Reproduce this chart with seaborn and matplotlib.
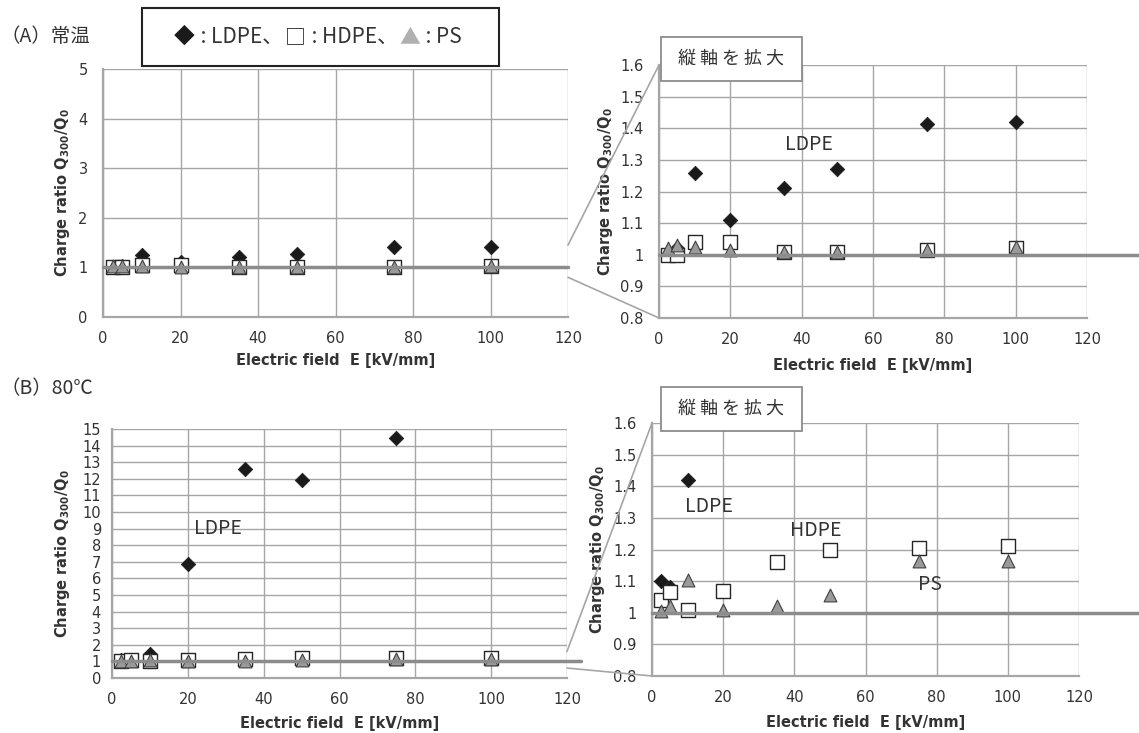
import numpy as np
import pandas as pd
import seaborn as sns
import matplotlib.pyplot as plt
from matplotlib.lines import Line2D
from matplotlib.patches import ConnectionPatch, Rectangle
from matplotlib.offsetbox import TextArea, HPacker, AnnotationBbox

# electric field values [kV/mm]
fields = [2.5, 5, 10, 20, 35, 50, 75, 100]

# (A) room temperature
a_ldpe = [1.0, 1.02, 1.26, 1.11, 1.21, 1.27, 1.415, 1.42]
a_hdpe = [1.0, 1.0, 1.04, 1.04, 1.01, 1.01, 1.015, 1.02]
a_ps = [1.02, 1.03, 1.025, 1.015, 1.01, 1.01, 1.015, 1.025]

# (B) 80 degC, no LDPE point at 100 kV/mm
b_ldpe = [1.10, 1.08, 1.42, 6.85, 12.6, 11.9, 14.45, np.nan]
b_hdpe = [1.04, 1.065, 1.01, 1.07, 1.16, 1.20, 1.205, 1.21]
b_ps = [1.005, 1.02, 1.105, 1.01, 1.02, 1.055, 1.165, 1.165]

x_ticks = [0, 20, 40, 60, 80, 100, 120]
zoom_ticks = [0.8, 0.9, 1.0, 1.1, 1.2, 1.3, 1.4, 1.5, 1.6]
zoom_labels = ['0.8', '0.9', '1', '1.1', '1.2', '1.3', '1.4', '1.5', '1.6']

sns.set_style('white')
plt.rcParams['font.family'] = ['DejaVu Sans', 'Noto Sans CJK JP']
JP = ['Noto Sans CJK JP', 'DejaVu Sans']
GRID = '#a6a6a6'
TXT = '#333333'

fig = plt.figure(figsize=(11.39, 7.33), dpi=100)
W, H = 1139, 733


def add_ax(left, top, right, bottom):
    return fig.add_axes([left / W, 1 - bottom / H, (right - left) / W, (bottom - top) / H])


def style_ax(ax, ylim, yticks, ylabels, xlab_y, ylab_x):
    ax.set_xlim(0, 120)
    ax.set_ylim(*ylim)
    ax.set_xticks(x_ticks)
    ax.set_yticks(yticks)
    ax.set_yticklabels(ylabels)
    ax.grid(True, color=GRID, linewidth=1)
    ax.set_axisbelow(True)
    for s in ['top', 'right']:
        ax.spines[s].set_visible(False)
    for s in ['left', 'bottom']:
        ax.spines[s].set_color(GRID)
        ax.spines[s].set_linewidth(1.6)
    ax.tick_params(axis='both', length=0, labelsize=10.5, colors=TXT)
    ax.tick_params(axis='y', pad=11)
    ax.tick_params(axis='x', pad=10)
    ax.set_xlabel('Electric field  E [kV/mm]', fontsize=10.5, fontweight='bold', color=TXT)
    ax.set_ylabel(r'Charge ratio $\mathbf{Q_{300}/Q_0}$', fontsize=10.5,
                  fontweight='bold', color=TXT)
    ax.xaxis.set_label_coords(0.5, xlab_y)
    ax.yaxis.set_label_coords(ylab_x, 0.5)


def draw_points(ax, ldpe, hdpe, ps):
    sns.scatterplot(x=fields, y=ldpe, marker='D', s=55, color='#1a1a1a',
                    edgecolor='#1a1a1a', linewidth=0.5, ax=ax, zorder=3)
    sns.scatterplot(x=fields, y=hdpe, marker='s', s=110, color='white',
                    edgecolor='#262626', linewidth=1.0, ax=ax, zorder=4)
    sns.scatterplot(x=fields, y=ps, marker='^', s=85, color='#9a9a9a',
                    edgecolor='#404040', linewidth=0.8, ax=ax, zorder=5)


def one_line(ax, x_end):
    ax.add_line(Line2D([0, x_end], [1, 1], transform=ax.get_yaxis_transform(),
                       color='#8c8c8c', linewidth=2.5, clip_on=False, zorder=6))


def label(ax, x, y, s):
    ax.text(x, y, s, fontsize=14, color=TXT, ha='center', va='center', family=JP)


# (A) full scale
ax1 = add_ax(103, 69, 568, 317)
draw_points(ax1, a_ldpe, a_hdpe, a_ps)
style_ax(ax1, (0, 5), [0, 1, 2, 3, 4, 5], ['0', '1', '2', '3', '4', '5'], -0.145, -0.067)
one_line(ax1, 1.0)

# (A) zoom
ax2 = add_ax(659, 65, 1087, 318)
draw_points(ax2, a_ldpe, a_hdpe, a_ps)
style_ax(ax2, (0.8, 1.6), zoom_ticks, zoom_labels, -0.158, -0.103)
one_line(ax2, 1.13)
label(ax2, 42, 1.35, 'LDPE')

# (B) full scale
ax3 = add_ax(112, 429, 567, 678)
draw_points(ax3, b_ldpe, b_hdpe, b_ps)
style_ax(ax3, (0, 15), list(range(16)), [str(v) for v in range(16)], -0.153, -0.088)
ax3.tick_params(axis='y', pad=8)
one_line(ax3, 1.03)
label(ax3, 28, 9, 'LDPE')

# (B) zoom
ax4 = add_ax(652, 423, 1079, 676)
draw_points(ax4, b_ldpe, b_hdpe, b_ps)
style_ax(ax4, (0.8, 1.6), zoom_ticks, zoom_labels, -0.154, -0.105)
one_line(ax4, 1.15)
label(ax4, 16, 1.335, 'LDPE')
label(ax4, 46, 1.26, 'HDPE')
label(ax4, 78, 1.09, 'PS')

# zoom connector lines
for src, dst, ys in [(ax1, ax2, [(1.45, 1.6), (0.8, 0.8)]),
                     (ax3, ax4, [(1.6, 1.6), (0.6, 0.8)])]:
    for y_src, y_dst in ys:
        con = ConnectionPatch(xyA=(120, y_src), coordsA=src.transData,
                              xyB=(0, y_dst), coordsB=dst.transData,
                              color=GRID, linewidth=1.2)
        fig.add_artist(con)

# panel titles
fig.text(1 / W, 1 - 37 / H, '（A）常温', fontsize=14, family=JP, color=TXT, va='center')
fig.text(1 / W, 1 - 389 / H, '（B）80℃', fontsize=14, family=JP, color=TXT, va='center')

# "zoomed vertical axis" boxes
for top in [37, 387]:
    fig.add_artist(Rectangle((661 / W, 1 - (top + 44) / H), 141 / W, 44 / H,
                             transform=fig.transFigure, facecolor='white',
                             edgecolor='#8c8c8c', linewidth=1.3, zorder=10))
    fig.text(731 / W, 1 - (top + 22) / H, '縦 軸 を 拡 大', fontsize=13, family=JP,
             color=TXT, ha='center', va='center', zorder=11)

# legend box
parts = [('◆', '#1a1a1a'), (' : LDPE、', TXT), ('□', '#1a1a1a'), (' : HDPE、', TXT),
         ('▲', '#b0b0b0'), (' : PS', TXT)]
areas = [TextArea(s, textprops=dict(fontsize=15, family=JP, color=c)) for s, c in parts]
pack = HPacker(children=areas, pad=0, sep=1, align='center')
fig.add_artist(AnnotationBbox(pack, (318 / W, 1 - 37 / H), xycoords='figure fraction',
                              frameon=False, box_alignment=(0.5, 0.5)))
fig.add_artist(Rectangle((142 / W, 1 - 66 / H), 357 / W, 58 / H,
                         transform=fig.transFigure, fill=False,
                         edgecolor='#222222', linewidth=1.5))

fig.savefig('out.png', dpi=100)
